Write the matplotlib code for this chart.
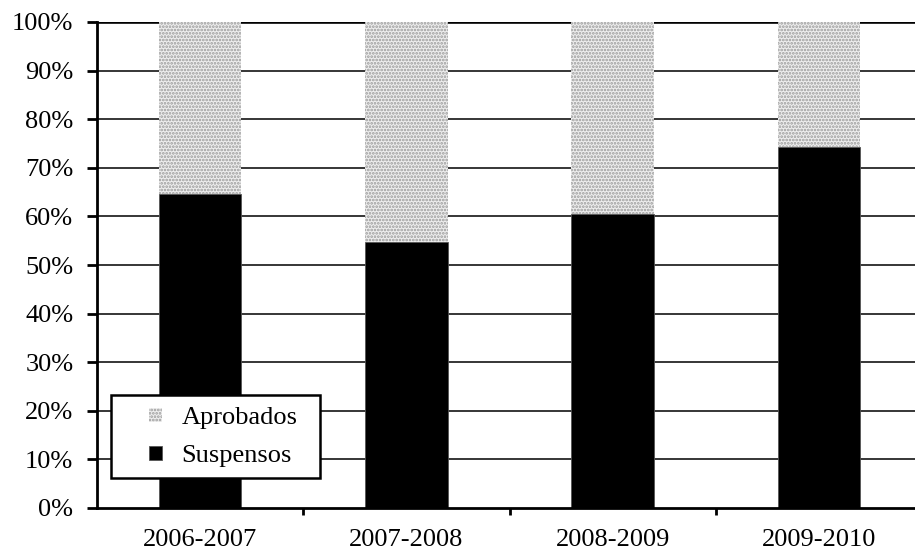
import matplotlib
matplotlib.use("Agg")
import matplotlib.pyplot as plt
import numpy as np
from matplotlib.ticker import FuncFormatter, FixedLocator
from matplotlib.patches import Rectangle
from matplotlib.legend_handler import HandlerPatch

plt.rcParams['font.family'] = ['Liberation Serif', 'DejaVu Serif']
plt.rcParams['hatch.linewidth'] = 1.3

courses = ["2006-2007", "2007-2008", "2008-2009", "2009-2010"]
suspensos = [64.6, 54.7, 60.5, 74.2]
aprobados = [100 - s for s in suspensos]

fig = plt.figure(figsize=(9.15, 5.54), dpi=100)
ax = fig.add_axes([97 / 915, 46 / 554, 825 / 915, 486 / 554])

x = np.arange(len(courses))
width = 0.4

# horizontal grid
for v in range(10, 100, 10):
    ax.axhline(v, color="black", lw=1.1, zorder=0)
ax.axhline(100, color="black", lw=2.6, zorder=0)

bars_s = ax.bar(x, suspensos, width, color="black", edgecolor="#555555", lw=0.6,
                label="Suspensos", zorder=2)
bars_a = ax.bar(x, aprobados, width, bottom=suspensos, color="#eeeeee",
                edgecolor="#9a9a9a", hatch=".....", lw=0, label="Aprobados",
                zorder=2)

ax.set_xlim(-0.5, len(courses) - 0.5)
ax.set_ylim(0, 100)

ax.yaxis.set_major_locator(FixedLocator(np.arange(0, 101, 10)))
ax.yaxis.set_major_formatter(FuncFormatter(lambda v, p: f"{int(v)}%"))

ax.set_xticks(x)
ax.set_xticklabels(courses)
ax.xaxis.set_minor_locator(FixedLocator(np.arange(0.5, len(courses) - 0.5, 1)))
ax.tick_params(axis="x", which="major", length=0, labelsize=19, pad=15)
ax.tick_params(axis="x", which="minor", length=5, width=2, direction="out")
ax.tick_params(axis="y", length=7, width=2, direction="out", labelsize=19, pad=10)

for s in ["top", "right"]:
    ax.spines[s].set_visible(False)
ax.spines["left"].set_linewidth(2)
ax.spines["bottom"].set_linewidth(2)


def square_key(legend, orig_handle, xdescent, ydescent, width, height, fontsize):
    # small square swatch placed at the right end of the handle box
    side = 0.5 * fontsize
    return Rectangle((width - side - xdescent, (height - side) / 2 - ydescent),
                     side, side)


key_handles = [bars_a.patches[0], bars_s.patches[0]]
key_labels = ["Aprobados", "Suspensos"]
leg = ax.legend(key_handles, key_labels, loc="lower left",
                bbox_to_anchor=(0.017, 0.062, 0.253, 0.175), mode="expand",
                fontsize=19, frameon=True, fancybox=False, edgecolor="black",
                framealpha=1, facecolor="white",
                handler_map={h: HandlerPatch(patch_func=square_key) for h in key_handles},
                handlelength=1.55, handleheight=0.7, handletextpad=0.73,
                borderaxespad=0, borderpad=0.4, labelspacing=0.55)
leg.get_frame().set_linewidth(1.8)
leg.set_zorder(5)

fig.savefig("out.png", dpi=100)
